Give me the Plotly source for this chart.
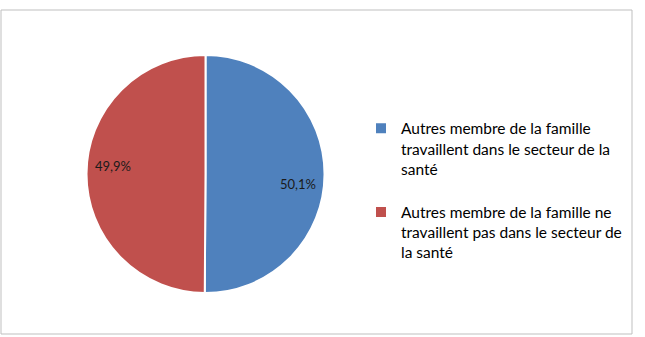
import math
import plotly.graph_objects as go

labels = [
    "Autres membre de la famille<br>travaillent dans le secteur de la<br>santé<br> ",
    "Autres membre de la famille ne<br>travaillent pas dans le secteur de<br>la santé",
]
values = [50.1, 49.9]
colors = ["#4F81BD", "#C0504D"]
label_yshift = [-10, 8]  # style: vertical nudge of the data labels (px)

W, H = 645, 337
margin = dict(l=1, r=13, t=10, b=3)
dom_x = [0.1355, 0.5127]
dom_y = [0.1265, 0.8611]

fig = go.Figure(
    go.Pie(
        labels=labels,
        values=values,
        sort=False,
        direction="clockwise",
        rotation=0,
        marker=dict(colors=colors, line=dict(color="white", width=2)),
        textinfo="none",
        hoverinfo="label+percent",
        domain=dict(x=dom_x, y=dom_y),
    )
)

# data labels placed at each slice's mid-angle, at 78% of the radius
pw = W - margin["l"] - margin["r"]
ph = H - margin["t"] - margin["b"]
cx = sum(dom_x) / 2
cy = sum(dom_y) / 2
rad_px = min((dom_x[1] - dom_x[0]) * pw, (dom_y[1] - dom_y[0]) * ph) / 2
total = sum(values)
cum = 0.0
annotations = []
for v, dy in zip(values, label_yshift):
    mid = (cum + v / 2) / total * 2 * math.pi  # clockwise from 12 o'clock
    cum += v
    r = 0.78 * rad_px
    ax = cx + r * math.sin(mid) / pw
    ay = cy + r * math.cos(mid) / ph
    annotations.append(
        dict(
            x=ax,
            y=ay,
            xref="paper",
            yref="paper",
            xanchor="center",
            yanchor="middle",
            text=f"{v:.1f}%".replace(".", ","),
            showarrow=False,
            yshift=dy,
            font=dict(family="Lato", size=13, color="#1a1a1a"),
        )
    )

fig.update_layout(
    width=W,
    height=H,
    margin=margin,
    paper_bgcolor="white",
    plot_bgcolor="white",
    separators=",.",
    font=dict(family="Lato", size=15.5, color="#000000"),
    legend=dict(
        x=0.5705,
        y=0.686,
        xanchor="left",
        yanchor="top",
        valign="top",
        bgcolor="rgba(0,0,0,0)",
        font=dict(family="Lato", size=15.5, color="#000000"),
    ),
    annotations=annotations,
    shapes=[
        dict(
            type="rect",
            xref="paper",
            yref="paper",
            x0=0,
            x1=1,
            y0=0,
            y1=1,
            line=dict(color="#BFBFBF", width=1),
            layer="below",
        )
    ],
)

fig.write_html("out.html")
